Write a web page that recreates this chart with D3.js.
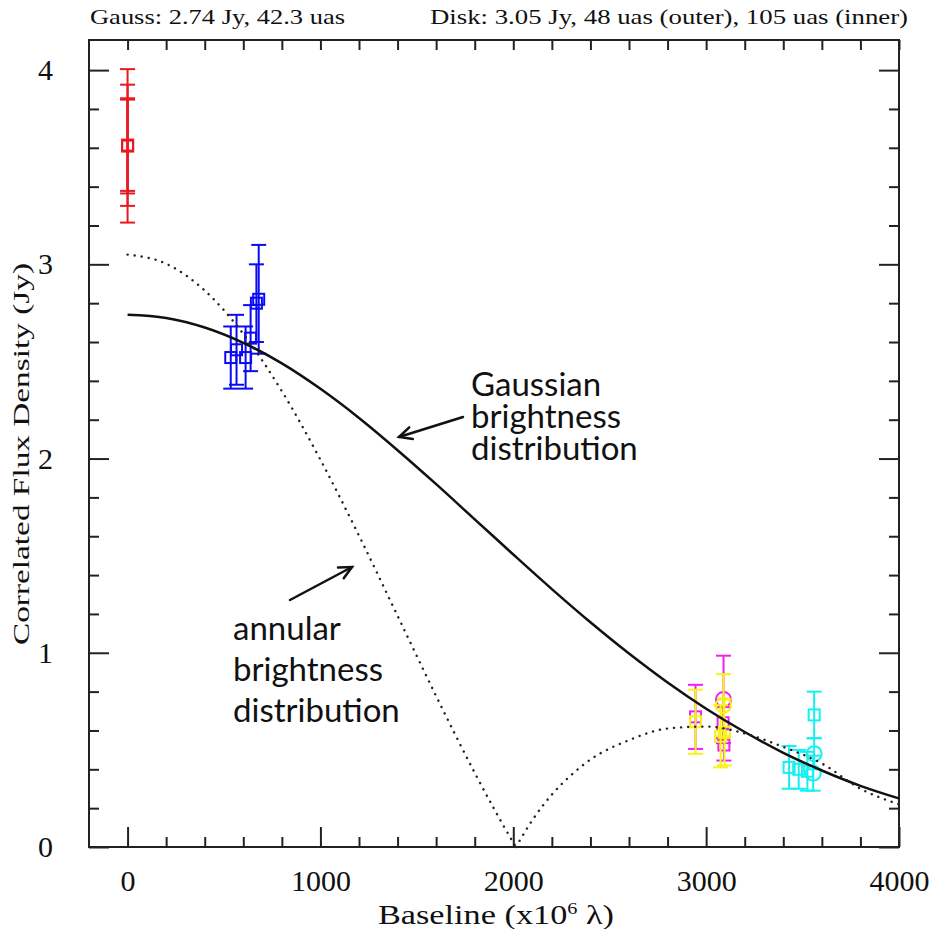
<!DOCTYPE html>
<html>
<head>
<meta charset="utf-8">
<script src="https://cdn.jsdelivr.net/npm/d3@7"></script>
<style>
  body { margin: 0; background: #fff; }
  svg { display: block; }
</style>
</head>
<body>
<div id="chart"></div>
<script>
// model curves (baseline in 10^6 lambda, flux in Jy)
const gaussU = [0, 200, 400, 600, 800, 1000, 1200, 1400, 1600, 1800, 2000,
  2200, 2400, 2600, 2800, 3000, 3200, 3400, 3600, 3800, 4000];
const gaussFlux = [2.740, 2.724, 2.675, 2.596, 2.490, 2.359, 2.209, 2.043, 1.868, 1.687, 1.506,
  1.328, 1.157, 0.996, 0.847, 0.712, 0.592, 0.485, 0.394, 0.315, 0.250];

// annular model, inner lobe and outer lobe (null at ~2014)
const diskInnerU = [0, 200, 400, 600, 800, 1000, 1200, 1400, 1600, 1800, 1900, 2000, 2014];
const diskInnerFlux = [3.05, 3.003, 2.865, 2.642, 2.347, 1.994, 1.603, 1.190, 0.777, 0.382, 0.197, 0.023, 0];
const diskOuterU = [2014, 2100, 2200, 2300, 2400, 2600, 2800, 3000, 3200, 3400, 3600, 3800, 4000];
const diskOuterFlux = [0, 0.14, 0.27, 0.37, 0.45, 0.55, 0.61, 0.62, 0.585, 0.515, 0.43, 0.30, 0.22];

// measurements: [baseline, flux, error, marker]
const redPoints = [[0, 3.61, 0.395, "sq"], [0, 3.613, 0.312, "sq"], [0, 3.61, 0.245, "sq"], [0, 3.613, 0.235, "sq"]];
const bluePoints = [[535, 2.52, 0.16, "sq"], [565, 2.56, 0.18, "sq"], [612, 2.52, 0.16, "sq"],
  [638, 2.62, 0.17, "sq"], [668, 2.80, 0.20, "sq"], [680, 2.82, 0.28, "sq"]];
const magentaPoints = [[2945, 0.67, 0.165, "sq"], [3090, 0.76, 0.225, "ci"], [3088, 0.64, 0.08, "sq"], [3092, 0.525, 0.08, "sq"]];
const yellowPoints = [[2945, 0.645, 0.165, "sq"], [3090, 0.73, 0.16, "ci"], [3075, 0.57, 0.16, "sq"], [3095, 0.59, 0.17, "sq"]];
const cyanPoints = [[3430, 0.41, 0.11, "sq"], [3480, 0.40, 0.10, "sq"], [3525, 0.39, 0.10, "sq"],
  [3560, 0.68, 0.12, "sq"], [3560, 0.48, 0.08, "ci"], [3555, 0.38, 0.09, "ci"]];

const xTickValues = [0, 1000, 2000, 3000, 4000];
const yTickValues = [0, 1, 2, 3, 4];

const titleLeft = "Gauss: 2.74 Jy, 42.3 uas";
const titleRight = "Disk: 3.05 Jy, 48 uas (outer), 105 uas (inner)";

const W = 938, H = 929;
const mLeft = 89, mRight = 899, mTop = 40, mBottom = 847;
const pgFont = "'Liberation Serif', 'DejaVu Serif', serif";

const svg = d3.select("#chart").append("svg")
  .attr("width", W)
  .attr("height", H);

const x = d3.scaleLinear().domain([-200, 4000]).range([mLeft, mRight]);
const y = d3.scaleLinear().domain([0, 4.155]).range([mBottom, mTop]);

const xMinor = d3.range(-200, 4001, 200).filter(v => v % 1000 !== 0 && v > -200 && v < 4000);
const yMinor = d3.range(0.2, 4.1, 0.2).filter(v => Math.abs(v - Math.round(v)) > 0.01);

function styleAxis(g) {
  g.select(".domain").remove();
  g.selectAll(".tick line").attr("stroke", "#222").attr("stroke-width", 2);
  g.selectAll(".tick text")
    .attr("fill", "#111")
    .style("font-family", pgFont);
}

// bottom
svg.append("g").attr("transform", `translate(0,${mBottom})`)
  .call(d3.axisBottom(x).tickValues(xMinor).tickSize(-10).tickFormat(""))
  .call(styleAxis);
svg.append("g").attr("transform", `translate(0,${mBottom})`)
  .call(d3.axisBottom(x).tickValues(xTickValues).tickSize(-20).tickPadding(23).tickFormat(d3.format("d")))
  .call(styleAxis)
  .call(g => g.selectAll(".tick text").style("font-size", "30px"));
// top
svg.append("g").attr("transform", `translate(0,${mTop})`)
  .call(d3.axisTop(x).tickValues(xMinor.concat(xTickValues)).tickSize(-10).tickFormat(""))
  .call(styleAxis);
// left
svg.append("g").attr("transform", `translate(${mLeft},0)`)
  .call(d3.axisLeft(y).tickValues(yMinor).tickSize(-10).tickFormat(""))
  .call(styleAxis);
svg.append("g").attr("transform", `translate(${mLeft},0)`)
  .call(d3.axisLeft(y).tickValues(yTickValues).tickSize(-20).tickPadding(36).tickFormat(d3.format("d")))
  .call(styleAxis)
  .call(g => g.selectAll(".tick text").style("font-size", "30px"));
// right
svg.append("g").attr("transform", `translate(${mRight},0)`)
  .call(d3.axisRight(y).tickValues(yMinor).tickSize(-10).tickFormat(""))
  .call(styleAxis);
svg.append("g").attr("transform", `translate(${mRight},0)`)
  .call(d3.axisRight(y).tickValues(yTickValues).tickSize(-20).tickFormat(""))
  .call(styleAxis);

// frame
svg.append("rect")
  .attr("x", mLeft).attr("y", mTop)
  .attr("width", mRight - mLeft).attr("height", mBottom - mTop)
  .attr("fill", "none").attr("stroke", "#222").attr("stroke-width", 2);

// data points with error bars
const capW = 7.5;
function drawPoints(pts, color) {
  const g = svg.append("g")
    .attr("stroke", color).attr("stroke-width", 2).attr("fill", "none");
  pts.forEach(p => {
    const px = x(p[0]), py = y(p[1]);
    const yt = y(p[1] + p[2]), yb = y(p[1] - p[2]);
    g.append("line").attr("x1", px).attr("x2", px).attr("y1", yt).attr("y2", yb);
    g.append("line").attr("x1", px - capW).attr("x2", px + capW).attr("y1", yt).attr("y2", yt);
    g.append("line").attr("x1", px - capW).attr("x2", px + capW).attr("y1", yb).attr("y2", yb);
    if (p[3] === "ci") {
      g.append("circle").attr("cx", px).attr("cy", py).attr("r", 7.5);
    } else {
      g.append("rect").attr("x", px - 5.5).attr("y", py - 5.5).attr("width", 11).attr("height", 11);
    }
  });
}
drawPoints(redPoints, "#ea1820");
drawPoints(bluePoints, "#0a0af5");
drawPoints(magentaPoints, "#f01ef0");
drawPoints(yellowPoints, "#f5f514");
drawPoints(cyanPoints, "#14f0f0");

// curves
const line = d3.line().curve(d3.curveMonotoneX).x(d => x(d[0])).y(d => y(d[1]));
svg.append("path")
  .datum(gaussU.map((u, i) => [u, gaussFlux[i]]))
  .attr("d", line)
  .attr("fill", "none").attr("stroke", "#111").attr("stroke-width", 2.5);
[[diskInnerU, diskInnerFlux], [diskOuterU, diskOuterFlux]].forEach(([us, fs]) => {
  svg.append("path")
    .datum(us.map((u, i) => [u, fs[i]]))
    .attr("d", line)
    .attr("fill", "none").attr("stroke", "#222").attr("stroke-width", 2.4)
    .attr("stroke-linecap", "round")
    .attr("stroke-dasharray", "0.1,7");
});

// title
svg.append("text").attr("x", 90).attr("y", 24)
  .attr("textLength", 255).attr("lengthAdjust", "spacingAndGlyphs")
  .style("font-family", pgFont).style("font-size", "21px").attr("fill", "#111")
  .text(titleLeft);
svg.append("text").attr("x", 430).attr("y", 24)
  .attr("textLength", 478).attr("lengthAdjust", "spacingAndGlyphs")
  .style("font-family", pgFont).style("font-size", "21px").attr("fill", "#111")
  .text(titleRight);

// axis titles
svg.append("text")
  .attr("transform", `translate(29,454) rotate(-90)`)
  .attr("text-anchor", "middle")
  .attr("textLength", 382).attr("lengthAdjust", "spacingAndGlyphs")
  .style("font-family", pgFont).style("font-size", "23px").attr("fill", "#111")
  .text("Correlated Flux Density (Jy)");
const xt = svg.append("text")
  .attr("x", (mLeft + mRight) / 2 + 2).attr("y", 924)
  .attr("text-anchor", "middle")
  .attr("textLength", 236).attr("lengthAdjust", "spacingAndGlyphs")
  .style("font-family", pgFont).style("font-size", "27px").attr("fill", "#111");
xt.append("tspan").text("Baseline (x10");
xt.append("tspan").attr("dy", -10).style("font-size", "16px").text("6");
xt.append("tspan").attr("dy", 10).text(" \u03bb)");

// annotations
const annFont = "Lato, 'Open Sans', sans-serif";
function annotate(lines, x0, y0, dy) {
  const t = svg.append("text")
    .style("font-family", annFont).style("font-size", "33px").attr("fill", "#111");
  lines.forEach((s, i) => t.append("tspan").attr("x", x0).attr("y", y0 + i * dy).text(s));
}
annotate(["Gaussian", "brightness", "distribution"], 471, 396, 32);
annotate(["annular", "brightness", "distribution"], 233, 640, 41);

function arrow(x1, y1, x2, y2) {
  const a = Math.atan2(y2 - y1, x2 - x1), L = 14, s = 0.45;
  const g = svg.append("g").attr("stroke", "#111").attr("stroke-width", 2.5).attr("fill", "none")
    .attr("stroke-linecap", "round");
  g.append("line").attr("x1", x1).attr("y1", y1).attr("x2", x2).attr("y2", y2);
  g.append("path").attr("d",
    `M${x2 - L * Math.cos(a - s)},${y2 - L * Math.sin(a - s)}L${x2},${y2}L${x2 - L * Math.cos(a + s)},${y2 - L * Math.sin(a + s)}`);
}
arrow(463, 417, 399, 437);
arrow(290, 600, 352, 567);
</script>
</body>
</html>
